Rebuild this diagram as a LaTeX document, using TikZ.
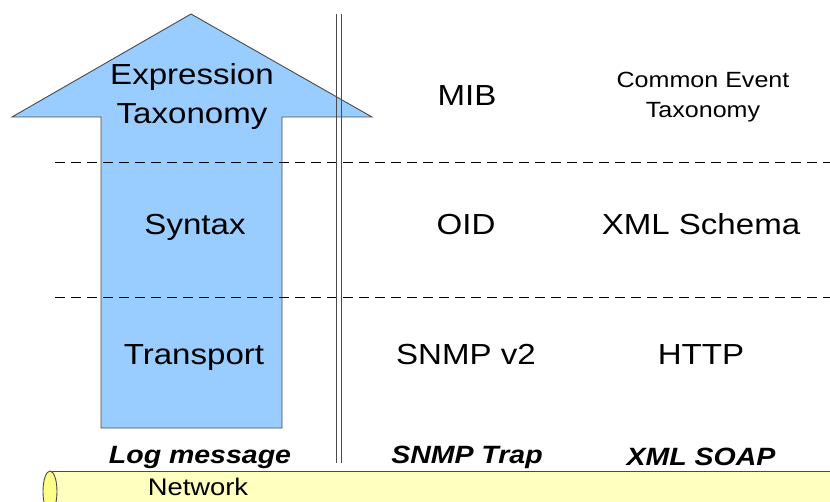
\documentclass[tikz,border=0pt]{standalone}
\usepackage{fontspec}
\setmainfont{Liberation Sans}
\definecolor{arrowblue}{HTML}{99CCFF}
\definecolor{pipeyellow}{HTML}{FFFFC0}
\definecolor{pipeend}{HTML}{FFFF88}
\definecolor{edgegray}{HTML}{4A4A4A}
\newcommand{\wide}[1]{\scalebox{1.14}[1]{#1}}
\tikzset{
  big/.style={font=\fontsize{29}{37}\selectfont, inner sep=0pt, anchor=base},
  mid/.style={font=\fontsize{22}{30}\selectfont, inner sep=0pt, anchor=base},
  proto/.style={font=\fontsize{25}{30}\selectfont\bfseries\itshape, inner sep=0pt, anchor=base},
  net/.style={font=\fontsize{24}{28}\selectfont, inner sep=0pt, anchor=base},
  layerline/.style={dash pattern=on 10pt off 6pt, line width=0.9pt},
  rule/.style={draw=edgegray, line width=0.9pt}
}
\begin{document}
\begin{tikzpicture}[x=1pt, y=-1pt]
\useasboundingbox (0,0) rectangle (830,502);

% network pipe along the bottom
\path[fill=pipeyellow, draw=edgegray, line width=0.9pt]
  (50,471) -- (840,471) -- (840,512) -- (50,512);
\draw[fill=pipeend, draw=edgegray, line width=0.9pt] (50,491.5) ellipse (7pt and 20.5pt);

% the upward arrow
\path[fill=arrowblue, draw=edgegray, line width=0.9pt]
  (191,14) -- (372,117) -- (282,117) -- (282,428)
  -- (101,428) -- (101,117) -- (12,117) -- cycle;

% layer separators
\draw[layerline] (55,162) -- (830,162);
\draw[layerline] (55,297) -- (830,297);

% double rule between the model and its realisations
\draw[rule] (336,14) -- (336,463);
\draw[rule] (341,14) -- (341,463);

% layer names in the arrow
\node[big] (expr) at (192,85) {\wide{Expression}};
\node[big] (tax) at (192,124) {\wide{Taxonomy}};
\node[big] (syn) at (195,235) {\wide{Syntax}};
\node[big] (trans) at (194,365) {\wide{Transport}};

% SNMP column
\node[big] (mib) at (467,106) {\wide{MIB}};
\node[big] (oid) at (466,235) {\wide{OID}};
\node[big] (snmpv) at (466,365) {\wide{SNMP v2}};

% XML column
\node[mid] (cet) at (703,88) {\wide{Common Event}};
\node[mid] (cetb) at (703,118) {\wide{Taxonomy}};
\node[big] (xsd) at (701,235) {\wide{XML Schema}};
\node[big] (http) at (701,365) {\wide{HTTP}};

% protocol names
\node[proto] (log) at (200,463) {\wide{Log message}};
\node[proto] (trap) at (467,463) {\wide{SNMP Trap}};
\node[proto] (soap) at (701,465) {\wide{XML SOAP}};

\node[net] (netw) at (198,495) {\wide{Network}};
\end{tikzpicture}
\end{document}
